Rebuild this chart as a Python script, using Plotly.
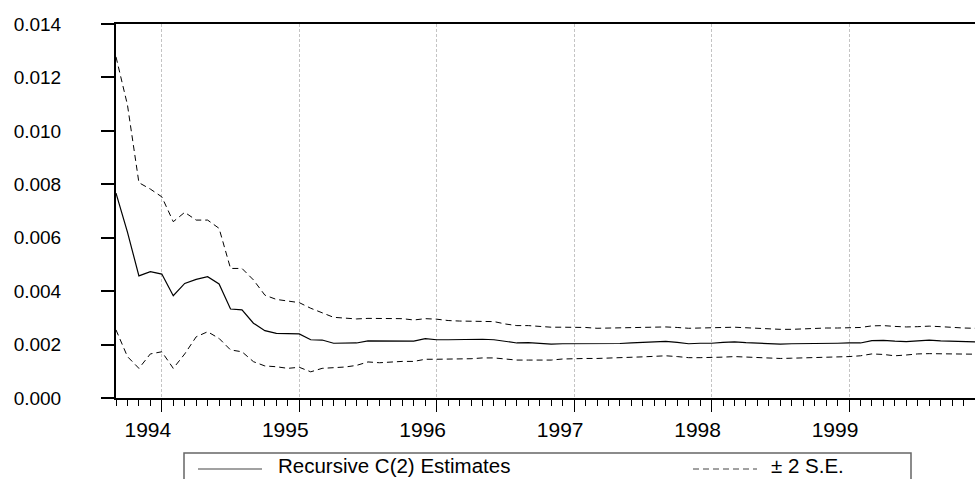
import plotly.graph_objects as go
import pandas as pd

months = pd.period_range("1993-09", "1999-12", freq="M").strftime("%Y-%m").tolist()

estimate = [0.00767, 0.00621, 0.00457, 0.00473, 0.00464, 0.00383, 0.00429, 0.00444, 0.00454, 0.00427,
            0.00333, 0.00330, 0.00280, 0.00252, 0.00242, 0.00240, 0.00240, 0.00218, 0.00217, 0.00205,
            0.00205, 0.00206, 0.00214, 0.00214, 0.00214, 0.00214, 0.00213, 0.00222, 0.00218, 0.00218,
            0.00219, 0.00220, 0.00220, 0.00218, 0.00212, 0.00206, 0.00207, 0.00205, 0.00202, 0.00203,
            0.00203, 0.00203, 0.00203, 0.00204, 0.00204, 0.00206, 0.00208, 0.00210, 0.00212, 0.00208,
            0.00203, 0.00205, 0.00205, 0.00208, 0.00210, 0.00207, 0.00205, 0.00202, 0.00202, 0.00203,
            0.00203, 0.00204, 0.00204, 0.00205, 0.00206, 0.00206, 0.00215, 0.00216, 0.00213, 0.00211,
            0.00214, 0.00217, 0.00214, 0.00212, 0.00211, 0.00210]

upper = [0.01277, 0.01097, 0.00806, 0.00782, 0.00753, 0.00660, 0.00695, 0.00666, 0.00666, 0.00635,
         0.00485, 0.00485, 0.00442, 0.00385, 0.00369, 0.00363, 0.00357, 0.00336, 0.00319, 0.00302,
         0.00299, 0.00296, 0.00298, 0.00298, 0.00298, 0.00297, 0.00292, 0.00297, 0.00295, 0.00290,
         0.00288, 0.00288, 0.00288, 0.00286, 0.00277, 0.00271, 0.00271, 0.00267, 0.00265, 0.00265,
         0.00265, 0.00264, 0.00261, 0.00262, 0.00262, 0.00263, 0.00264, 0.00265, 0.00266, 0.00264,
         0.00261, 0.00262, 0.00263, 0.00264, 0.00265, 0.00263, 0.00261, 0.00258, 0.00257, 0.00257,
         0.00259, 0.00261, 0.00262, 0.00262, 0.00262, 0.00264, 0.00270, 0.00271, 0.00268, 0.00266,
         0.00267, 0.00269, 0.00267, 0.00264, 0.00262, 0.00261]

lower = [0.00255, 0.00155, 0.00111, 0.00165, 0.00173, 0.00111, 0.00165, 0.00229, 0.00248, 0.00223,
         0.00180, 0.00173, 0.00136, 0.00120, 0.00117, 0.00111, 0.00115, 0.00098, 0.00111, 0.00113,
         0.00116, 0.00122, 0.00135, 0.00132, 0.00135, 0.00137, 0.00137, 0.00145, 0.00145, 0.00145,
         0.00146, 0.00147, 0.00150, 0.00150, 0.00146, 0.00142, 0.00142, 0.00142, 0.00142, 0.00146,
         0.00148, 0.00148, 0.00148, 0.00149, 0.00150, 0.00152, 0.00154, 0.00156, 0.00158, 0.00155,
         0.00151, 0.00151, 0.00151, 0.00153, 0.00155, 0.00153, 0.00150, 0.00148, 0.00148, 0.00149,
         0.00150, 0.00152, 0.00153, 0.00154, 0.00155, 0.00158, 0.00165, 0.00163, 0.00158, 0.00161,
         0.00165, 0.00166, 0.00165, 0.00164, 0.00164, 0.00164]

y_ticks = [0.000, 0.002, 0.004, 0.006, 0.008, 0.010, 0.012, 0.014]
year_labels = ["1994", "1995", "1996", "1997", "1998", "1999"]

xpos = list(range(len(months)))
year_pos = [months.index(y + "-01") for y in year_labels]

FONT = "Liberation Sans, Arial, sans-serif"
W, H = 975, 479
L, R, T, B = 116, 0, 24, 81

fig = go.Figure()
fig.add_trace(go.Scatter(x=xpos, y=estimate, mode="lines", name="Recursive C(2) Estimates",
                         line=dict(color="black", width=1.2), showlegend=False))
fig.add_trace(go.Scatter(x=xpos, y=upper, mode="lines", name="± 2 S.E.",
                         line=dict(color="black", width=1, dash="6px,4px"), showlegend=False))
fig.add_trace(go.Scatter(x=xpos, y=lower, mode="lines", name="± 2 S.E.",
                         line=dict(color="black", width=1, dash="6px,4px"), showlegend=False))

pw = W - L - R
ph = H - T - B


def px(xp):
    return (xp - L) / pw


def py(yp):
    return (H - B - yp) / ph


# manual legend (box runs past the bottom edge, as in the reference)
fig.add_shape(type="rect", xref="paper", yref="paper",
              x0=px(184), x1=px(911), y0=py(453), y1=py(520),
              line=dict(color="#666666", width=1.5), fillcolor="white")
fig.add_shape(type="line", xref="paper", yref="paper",
              x0=px(198), x1=px(262), y0=py(469), y1=py(469),
              line=dict(color="#444444", width=1.2))
fig.add_shape(type="line", xref="paper", yref="paper",
              x0=px(693), x1=px(757), y0=py(469), y1=py(469),
              line=dict(color="#444444", width=1, dash="6px,4px"))
fig.add_annotation(xref="paper", yref="paper", x=px(276), y=py(478.5), text="Recursive C(2) Estimates",
                   showarrow=False, xanchor="left", yanchor="bottom",
                   font=dict(family=FONT, size=20.5, color="black"))
fig.add_annotation(xref="paper", yref="paper", x=px(769), y=py(478.5), text="± 2 S.E.",
                   showarrow=False, xanchor="left", yanchor="bottom",
                   font=dict(family=FONT, size=20.5, color="black"))

fig.update_layout(
    width=W, height=H,
    margin=dict(l=L, r=R, t=T, b=B, pad=0),
    plot_bgcolor="white", paper_bgcolor="white",
    font=dict(family=FONT, color="black"),
    showlegend=False,
)
fig.update_xaxes(
    range=[0, len(months) - 1],
    tickmode="array", tickvals=year_pos, ticktext=year_labels,
    ticks="outside", ticklen=12, tickwidth=1, tickcolor="black",
    ticklabelshift=-14,
    tickfont=dict(family=FONT, size=21, color="black"),
    minor=dict(dtick=1, tick0=0, ticks="outside", ticklen=6, tickwidth=1, tickcolor="black", showgrid=False),
    showgrid=True, gridcolor="#c4c4c4", gridwidth=1, griddash="3px,2px",
    showline=True, linecolor="black", linewidth=2, mirror=True,
    zeroline=False,
)
fig.update_yaxes(
    range=[0, 0.014],
    tickmode="array", tickvals=y_ticks, ticktext=[f"{v:.3f}" for v in y_ticks],
    ticks="outside", ticklen=13, tickwidth=1.5, tickcolor="black",
    ticklabelstandoff=36,
    tickfont=dict(family=FONT, size=19, color="black"),
    showgrid=False, zeroline=False,
    showline=True, linecolor="black", linewidth=2,
)

fig.write_html("out.html")
